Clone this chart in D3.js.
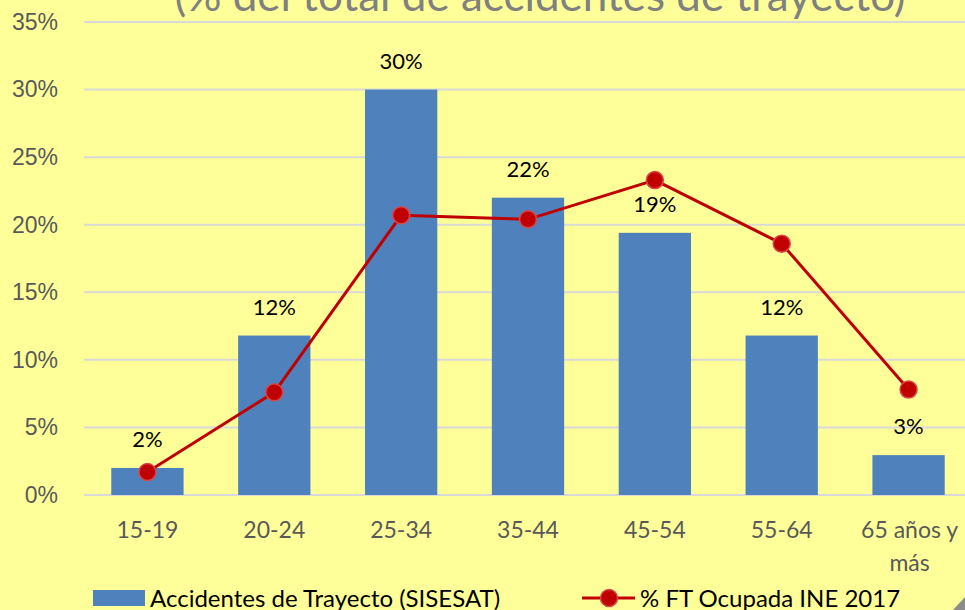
<!DOCTYPE html>
<html lang="es">
<head>
<meta charset="UTF-8" />
<title>Accidentes de trayecto por edad</title>
<script src="https://d3js.org/d3.v7.min.js"></script>
<style>
  body { margin: 0; padding: 0; background: #ffff99; overflow: hidden; }
  svg { display: block; font-family: Lato, "Open Sans", sans-serif; }
  .grid line { stroke: #d9d9d9; stroke-width: 2px; }
  .tick text { fill: #595959; font-size: 23px; }
  .barlabel { font-size: 22px; fill: #000; }
  .legend text { font-size: 24px; fill: #000; }
</style>
</head>
<body>
<svg width="965" height="610"></svg>
<script>
// data
const categories = ["15-19", "20-24", "25-34", "35-44", "45-54", "55-64", "65 años y más"];
const accidentes = [2.0, 11.8, 30.0, 22.0, 19.4, 11.8, 2.95];
const ftOcupada  = [1.7, 7.6, 20.7, 20.4, 23.3, 18.6, 7.8];
const yTicks = [0, 5, 10, 15, 20, 25, 30, 35];

const W = 965, H = 610;
const svg = d3.select("svg");
svg.append("rect").attr("width", W).attr("height", H).attr("fill", "#ffff99");

// title, mostly above the visible area
svg.append("text")
  .attr("x", 540).attr("y", 11)
  .attr("text-anchor", "middle")
  .attr("font-size", 44)
  .attr("fill", "#808080")
  .text("(% del total de accidentes de trayecto)");

const pLeft = 84, pRight = 972, pTop = 22, pBottom = 495;

const x = d3.scaleBand().domain(categories).range([pLeft, pRight]).paddingInner(0.43).paddingOuter(0.215);
const y = d3.scaleLinear().domain([0, 35]).range([pBottom, pTop]);

// gridlines
svg.append("g").attr("class", "grid")
  .selectAll("line").data(yTicks).enter().append("line")
  .attr("x1", pLeft).attr("x2", W)
  .attr("y1", d => y(d)).attr("y2", d => y(d));

// y axis labels
const yAxis = svg.append("g")
  .attr("transform", `translate(${pLeft - 23},0)`)
  .call(d3.axisLeft(y).tickValues(yTicks).tickSize(0).tickFormat(d => d + "%"));
yAxis.select(".domain").remove();

// bars
svg.append("g").selectAll("rect").data(categories).enter().append("rect")
  .attr("x", d => x(d))
  .attr("width", x.bandwidth())
  .attr("y", (d, i) => y(accidentes[i]))
  .attr("height", (d, i) => pBottom - y(accidentes[i]))
  .attr("fill", "#4f81bd");

// bar labels
svg.append("g").selectAll("text").data(categories).enter().append("text")
  .attr("class", "barlabel")
  .attr("x", d => x(d) + x.bandwidth() / 2)
  .attr("y", (d, i) => y(accidentes[i]) - 21)
  .attr("text-anchor", "middle")
  .text((d, i) => Math.round(accidentes[i]) + "%");

// line + markers
const cx = d => x(d) + x.bandwidth() / 2;
const line = d3.line().x((d, i) => cx(categories[i])).y(d => y(d));
svg.append("path").datum(ftOcupada)
  .attr("d", line)
  .attr("fill", "none")
  .attr("stroke", "#c00000")
  .attr("stroke-width", 3);
svg.append("g").selectAll("circle").data(ftOcupada).enter().append("circle")
  .attr("cx", (d, i) => cx(categories[i]))
  .attr("cy", d => y(d))
  .attr("r", 8.5)
  .attr("fill", "#c00000")
  .attr("stroke", "#d9474a")
  .attr("stroke-width", 1.5);

// x axis labels
const xl = svg.append("g").selectAll("text").data(categories).enter().append("text")
  .attr("x", d => cx(d))
  .attr("y", 538)
  .attr("text-anchor", "middle")
  .attr("fill", "#595959")
  .attr("font-size", 23);
xl.each(function(d) {
  const t = d3.select(this);
  if (d === "65 años y más") {
    t.append("tspan").attr("x", cx(d) + 1).text("65 años y");
    t.append("tspan").attr("x", cx(d) + 1).attr("dy", 33).text("más");
  } else {
    t.text(d);
  }
});

// legend
const lg = svg.append("g").attr("class", "legend");
lg.append("rect").attr("x", 93).attr("y", 590).attr("width", 52).attr("height", 16).attr("fill", "#4f81bd");
lg.append("text").attr("x", 150).attr("y", 607).text("Accidentes de Trayecto (SISESAT)");
lg.append("line").attr("x1", 582).attr("x2", 635).attr("y1", 598).attr("y2", 598)
  .attr("stroke", "#c00000").attr("stroke-width", 3);
lg.append("circle").attr("cx", 609).attr("cy", 598).attr("r", 8.5)
  .attr("fill", "#c00000").attr("stroke", "#d9474a").attr("stroke-width", 1.5);
lg.append("text").attr("x", 640).attr("y", 607).text("% FT Ocupada INE 2017");

// page-curl corner
svg.append("polygon").attr("points", "965,597 965,610 953,610").attr("fill", "#8c8c8c");
</script>
</body>
</html>
